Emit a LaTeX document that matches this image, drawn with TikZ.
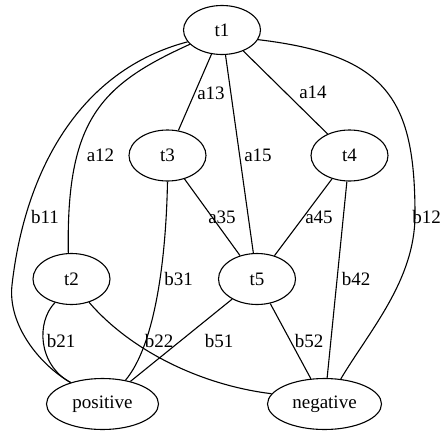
\documentclass[tikz,border=0pt]{standalone}
\usepackage{fontspec}
\setmainfont{Liberation Serif}
\usetikzlibrary{shapes.geometric}
\begin{document}
\begin{tikzpicture}[x=1pt, y=-1pt, line width=1.1pt,
    every node/.style={font=\fontsize{19}{22}\selectfont},
    state/.style={draw, ellipse, inner sep=0pt, minimum width=77pt, minimum height=51pt},
    class/.style={state, minimum width=112pt},
    weight/.style={inner sep=0pt}]
  \useasboundingbox (0,0) rectangle (441,433);
  \node[state, minimum height=49pt] (t1) at (222,30) {t1};
  \node[state] (t3) at (167.5,155.5) {t3};
  \node[state] (t4) at (349.5,155.5) {t4};
  \node[state] (t2) at (71.5,279) {t2};
  \node[state] (t5) at (257,279) {t5};
  \node[class] (positive) at (102.5,404) {positive};
  \node[class, minimum width=114pt] (negative) at (324.5,404) {negative};

  \draw (t1) -- (t3);
  \draw (t1) -- (t4);
  \draw (t1) -- (t5);
  \draw (t3) -- (t5);
  \draw (t4) -- (t5);
  \draw (t4) -- (negative);
  \draw (t5) -- (negative);
  \draw (t5) -- (positive);
  \draw (t1.204) .. controls (100,85) and (66,120) .. (t2.97);
  \draw (t1.199) .. controls (80,70) and (25,170) .. (12,285)
    .. controls (7.5,325) and (40,365) .. (positive.146);
  \draw (t1.345) .. controls (388,55) and (415,100) .. (415,215)
    .. controls (415,280) and (370,330) .. (negative.57);
  \draw (t3.south) .. controls (166,260) and (155,345) .. (positive.46);
  \draw (t2.235) .. controls (36,322) and (38,365) .. (positive.146);
  \draw (t2.307) .. controls (130,350) and (200,385) .. (negative.169);

  \node[weight] (l13) at (211,93) {a13};
  \node[weight] (l14) at (313,92) {a14};
  \node[weight] (l12) at (100.5,155) {a12};
  \node[weight] (l15) at (258,155) {a15};
  \node[weight] (l11) at (45,217) {b11};
  \node[weight] (l35) at (222,217) {a35};
  \node[weight] (l45) at (319,217) {a45};
  \node[weight] (l1n) at (426.5,217) {b12};
  \node[weight] (l31) at (178.5,279) {b31};
  \node[weight] (l42) at (356,279) {b42};
  \node[weight] (l21) at (61,341) {b21};
  \node[weight] (l2n) at (159,341) {b22};
  \node[weight] (l51) at (219,341) {b51};
  \node[weight] (l5n) at (309,341) {b52};
\end{tikzpicture}
\end{document}
